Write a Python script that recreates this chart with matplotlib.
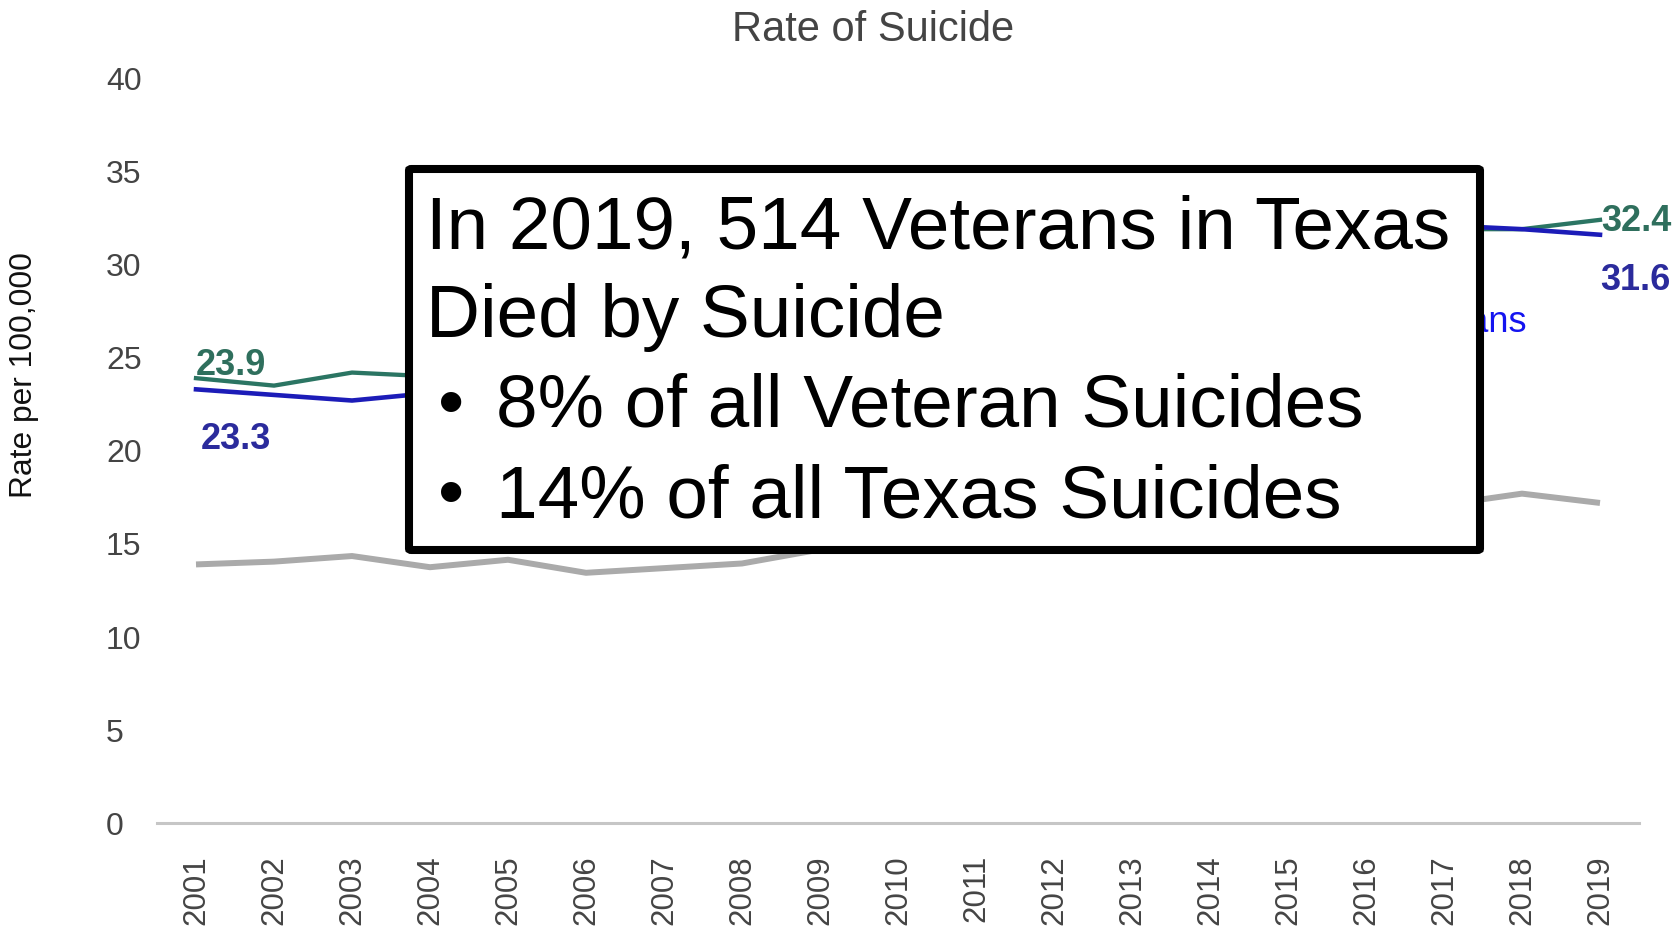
import matplotlib.pyplot as plt
from matplotlib.patches import FancyBboxPatch

plt.rcParams['font.family'] = ['Liberation Sans', 'DejaVu Sans']

years = list(range(2001, 2020))
texas_vets = [23.9, 23.5, 24.2, 24.0, 24.6, 25.0, 25.7, 26.3, 27.0, 27.6,
              28.3, 28.9, 29.5, 30.1, 30.7, 31.2, 31.9, 31.9, 32.4]
us_vets = [23.3, 23.0, 22.7, 23.1, 23.5, 23.8, 24.5, 25.1, 25.8, 26.5,
           27.1, 27.8, 28.4, 29.2, 29.9, 30.6, 32.1, 31.9, 31.6]
texas_pop = [13.9, 14.05, 14.35, 13.75, 14.15, 13.45, 13.7, 13.95, 14.7, 15.2,
             15.5, 15.7, 15.9, 16.2, 16.5, 16.8, 17.1, 17.7, 17.2]
y_ticks = [0, 5, 10, 15, 20, 25, 30, 35, 40]

box_lines = ["In 2019, 514 Veterans in Texas", "Died by Suicide"]
box_bullets = ["8% of all Veteran Suicides", "14% of all Texas Suicides"]

W, H = 1680, 933
green = "#2b7563"
blue = "#1c1cb8"

fig = plt.figure(figsize=(W / 100, H / 100), dpi=100)
ax = fig.add_axes([157 / W, (H - 823.3) / H, (1639 - 157) / W, (823.3 - 78.3) / H])

ax.plot(years, texas_pop, color="#aaaaaa", lw=4.3, solid_capstyle="butt", zorder=2)
ax.plot(years, texas_vets, color=green, lw=3.1, zorder=3)
ax.plot(years, us_vets, color=blue, lw=3.3, zorder=4)
ax.axhline(0, color="#c6c6c6", lw=2.2, clip_on=False, zorder=1)

ax.set_xlim(2000.5, 2019.5)
ax.set_ylim(0, 40)
ax.set_yticks(y_ticks)
ax.set_xticks(years)
ax.set_xticklabels([str(y) for y in years], rotation=90)
ax.tick_params(axis="y", length=0, pad=36.7, labelsize=23, labelcolor="#444444")
ax.tick_params(axis="x", length=0, pad=23, labelsize=22.5, labelcolor="#444444")
for lbl in ax.get_yticklabels():
    lbl.set_ha("left")
for s in ax.spines.values():
    s.set_visible(False)

# end-point value labels
ax.annotate(f"{texas_vets[0]:.1f}", (years[0], texas_vets[0]), xytext=(0, 2.5),
            textcoords="offset points", ha="left", va="baseline",
            fontsize=26, fontweight="bold", color="#2f6f5d")
ax.annotate(f"{us_vets[0]:.1f}", (years[0], us_vets[0]), xytext=(3.6, -23.5),
            textcoords="offset points", ha="left", va="top",
            fontsize=26, fontweight="bold", color="#2b2b9c")
ax.annotate(f"{texas_vets[-1]:.1f}", (years[-1], texas_vets[-1]), xytext=(1, -1.5),
            textcoords="offset points", ha="left", va="center",
            fontsize=26, fontweight="bold", color="#2f6f5d", annotation_clip=False)
ax.annotate(f"{us_vets[-1]:.1f}", (years[-1], us_vets[-1]), xytext=(0, -33),
            textcoords="offset points", ha="left", va="center",
            fontsize=26, fontweight="bold", color="#2b2b9c", annotation_clip=False)

ax.text(1526.7 / W, 1 - 331.7 / H, "U.S. Veterans", transform=fig.transFigure,
        ha="right", va="baseline", fontsize=26, color="#1414f0")

fig.text(873 / W, 1 - 30 / H, "Rate of Suicide", ha="center", va="center",
         fontsize=30, color="#444444")
fig.text(24 / W, 1 - 375 / H, "Rate per 100,000", rotation=90, ha="center",
         va="center", fontsize=22.9, color="#111111")

# callout box over the middle of the chart
box = FancyBboxPatch((409 / W, 1 - 550 / H), (1480 - 409) / W, (550 - 169) / H,
                     boxstyle="round,pad=0,rounding_size=0.0015",
                     transform=fig.transFigure, facecolor="white",
                     edgecolor="black", lw=5.8, zorder=5)
fig.add_artist(box)

baselines = [248.6, 337.5, 427.0, 517.3]
for text, yb in zip(box_lines, baselines[:2]):
    fig.text(426 / W, 1 - yb / H, text, ha="left", va="baseline",
             fontsize=53.8, color="black", zorder=6)
for text, yb in zip(box_bullets, baselines[2:]):
    fig.text(438 / W, 1 - yb / H, "\u2022", ha="left", va="baseline",
             fontsize=53.8, color="black", zorder=6)
    fig.text(496 / W, 1 - yb / H, text, ha="left", va="baseline",
             fontsize=53.8, color="black", zorder=6)

fig.savefig("out.png", dpi=100, facecolor="white")
